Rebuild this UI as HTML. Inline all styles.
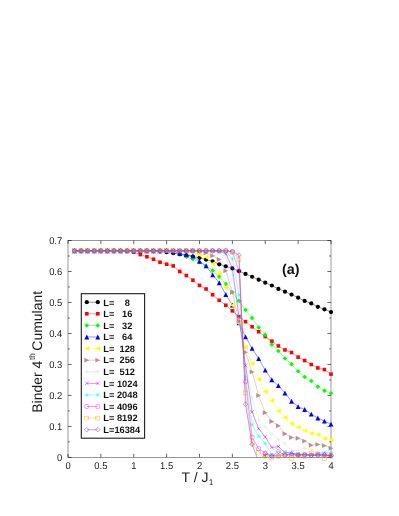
<!DOCTYPE html>
<html><head><meta charset="utf-8"><title>Binder cumulant</title>
<style>html,body{margin:0;padding:0;background:#fff}body{width:399px;height:516px;overflow:hidden;font-family:"Liberation Sans",sans-serif}svg{display:block;will-change:transform}text{text-rendering:geometricPrecision}</style></head>
<body>
<svg width="399" height="516" viewBox="0 0 399 516" font-family="Liberation Sans, sans-serif">
<defs><clipPath id="cp"><rect x="68.00" y="240.50" width="263.00" height="216.90"/></clipPath></defs>
<rect x="68.0" y="240.5" width="263.00" height="216.90" fill="none" stroke="#000" stroke-width="0.4"/>
<path d="M68.00 457.4v-3.6M68.00 240.5v3.6M100.88 457.4v-3.6M100.88 240.5v3.6M133.75 457.4v-3.6M133.75 240.5v3.6M166.62 457.4v-3.6M166.62 240.5v3.6M199.50 457.4v-3.6M199.50 240.5v3.6M232.38 457.4v-3.6M232.38 240.5v3.6M265.25 457.4v-3.6M265.25 240.5v3.6M298.12 457.4v-3.6M298.12 240.5v3.6M331.00 457.4v-3.6M331.00 240.5v3.6M68.0 457.40h3.6M331.0 457.40h-3.6M68.0 441.91h1.8M331.0 441.91h-1.8M68.0 426.41h3.6M331.0 426.41h-3.6M68.0 410.92h1.8M331.0 410.92h-1.8M68.0 395.43h3.6M331.0 395.43h-3.6M68.0 379.94h1.8M331.0 379.94h-1.8M68.0 364.44h3.6M331.0 364.44h-3.6M68.0 348.95h1.8M331.0 348.95h-1.8M68.0 333.46h3.6M331.0 333.46h-3.6M68.0 317.96h1.8M331.0 317.96h-1.8M68.0 302.47h3.6M331.0 302.47h-3.6M68.0 286.98h1.8M331.0 286.98h-1.8M68.0 271.49h3.6M331.0 271.49h-3.6M68.0 255.99h1.8M331.0 255.99h-1.8M68.0 240.50h3.6M331.0 240.50h-3.6" fill="none" stroke="#000" stroke-width="0.6"/>
<path d="M74.58 250.82L81.15 250.82L87.72 250.82L94.30 250.82L100.88 250.82L107.45 250.82L114.03 250.82L120.60 250.82L127.18 250.82L133.75 250.82L140.32 250.82L146.90 250.82L153.48 251.04L160.05 251.50L166.62 252.27L173.20 253.20L179.77 254.13L186.35 255.37L192.93 256.61L199.50 257.85L206.08 259.71L212.65 261.26L219.22 264.36L225.80 266.37L232.38 268.39L238.95 271.18L245.53 273.96L252.10 276.75L258.67 279.67L265.25 282.64L271.83 285.52L278.40 288.93L284.98 291.63L291.55 294.54L298.12 297.70L304.70 300.92L311.27 303.40L317.85 306.81L324.43 309.29L331.00 312.08" fill="none" stroke="#000000" stroke-width="0.42" clip-path="url(#cp)"/>
<circle cx="74.58" cy="250.82" r="2.10" fill="#000000"/>
<circle cx="81.15" cy="250.82" r="2.10" fill="#000000"/>
<circle cx="87.72" cy="250.82" r="2.10" fill="#000000"/>
<circle cx="94.30" cy="250.82" r="2.10" fill="#000000"/>
<circle cx="100.88" cy="250.82" r="2.10" fill="#000000"/>
<circle cx="107.45" cy="250.82" r="2.10" fill="#000000"/>
<circle cx="114.03" cy="250.82" r="2.10" fill="#000000"/>
<circle cx="120.60" cy="250.82" r="2.10" fill="#000000"/>
<circle cx="127.18" cy="250.82" r="2.10" fill="#000000"/>
<circle cx="133.75" cy="250.82" r="2.10" fill="#000000"/>
<circle cx="140.32" cy="250.82" r="2.10" fill="#000000"/>
<circle cx="146.90" cy="250.82" r="2.10" fill="#000000"/>
<circle cx="153.48" cy="251.04" r="2.10" fill="#000000"/>
<circle cx="160.05" cy="251.50" r="2.10" fill="#000000"/>
<circle cx="166.62" cy="252.27" r="2.10" fill="#000000"/>
<circle cx="173.20" cy="253.20" r="2.10" fill="#000000"/>
<circle cx="179.77" cy="254.13" r="2.10" fill="#000000"/>
<circle cx="186.35" cy="255.37" r="2.10" fill="#000000"/>
<circle cx="192.93" cy="256.61" r="2.10" fill="#000000"/>
<circle cx="199.50" cy="257.85" r="2.10" fill="#000000"/>
<circle cx="206.08" cy="259.71" r="2.10" fill="#000000"/>
<circle cx="212.65" cy="261.26" r="2.10" fill="#000000"/>
<circle cx="219.22" cy="264.36" r="2.10" fill="#000000"/>
<circle cx="225.80" cy="266.37" r="2.10" fill="#000000"/>
<circle cx="232.38" cy="268.39" r="2.10" fill="#000000"/>
<circle cx="238.95" cy="271.18" r="2.10" fill="#000000"/>
<circle cx="245.53" cy="273.96" r="2.10" fill="#000000"/>
<circle cx="252.10" cy="276.75" r="2.10" fill="#000000"/>
<circle cx="258.67" cy="279.67" r="2.10" fill="#000000"/>
<circle cx="265.25" cy="282.64" r="2.10" fill="#000000"/>
<circle cx="271.83" cy="285.52" r="2.10" fill="#000000"/>
<circle cx="278.40" cy="288.93" r="2.10" fill="#000000"/>
<circle cx="284.98" cy="291.63" r="2.10" fill="#000000"/>
<circle cx="291.55" cy="294.54" r="2.10" fill="#000000"/>
<circle cx="298.12" cy="297.70" r="2.10" fill="#000000"/>
<circle cx="304.70" cy="300.92" r="2.10" fill="#000000"/>
<circle cx="311.27" cy="303.40" r="2.10" fill="#000000"/>
<circle cx="317.85" cy="306.81" r="2.10" fill="#000000"/>
<circle cx="324.43" cy="309.29" r="2.10" fill="#000000"/>
<circle cx="331.00" cy="312.08" r="2.10" fill="#000000"/>
<path d="M74.58 250.82L81.15 250.82L87.72 250.82L94.30 250.82L100.88 250.82L107.45 250.82L114.03 250.82L120.60 250.82L127.18 250.82L133.75 252.12L140.32 254.60L146.90 256.77L153.48 259.25L160.05 262.19L166.62 264.20L173.20 265.91L179.77 271.49L186.35 275.51L192.93 280.16L199.50 285.43L206.08 288.99L212.65 294.73L219.22 300.30L225.80 305.26L232.38 310.84L238.95 316.72L245.53 321.68L252.10 326.76L258.67 331.75L265.25 336.56L271.83 341.20L278.40 345.94L284.98 349.94L291.55 352.54L298.12 357.13L304.70 360.54L311.27 364.54L317.85 367.94L324.43 369.56L331.00 374.14" fill="none" stroke="#ff0000" stroke-width="0.42" clip-path="url(#cp)"/>
<rect x="72.78" y="249.02" width="3.60" height="3.60" fill="#ff0000"/>
<rect x="79.35" y="249.02" width="3.60" height="3.60" fill="#ff0000"/>
<rect x="85.92" y="249.02" width="3.60" height="3.60" fill="#ff0000"/>
<rect x="92.50" y="249.02" width="3.60" height="3.60" fill="#ff0000"/>
<rect x="99.08" y="249.02" width="3.60" height="3.60" fill="#ff0000"/>
<rect x="105.65" y="249.02" width="3.60" height="3.60" fill="#ff0000"/>
<rect x="112.23" y="249.02" width="3.60" height="3.60" fill="#ff0000"/>
<rect x="118.80" y="249.02" width="3.60" height="3.60" fill="#ff0000"/>
<rect x="125.38" y="249.02" width="3.60" height="3.60" fill="#ff0000"/>
<rect x="131.95" y="250.32" width="3.60" height="3.60" fill="#ff0000"/>
<rect x="138.52" y="252.80" width="3.60" height="3.60" fill="#ff0000"/>
<rect x="145.10" y="254.97" width="3.60" height="3.60" fill="#ff0000"/>
<rect x="151.68" y="257.45" width="3.60" height="3.60" fill="#ff0000"/>
<rect x="158.25" y="260.39" width="3.60" height="3.60" fill="#ff0000"/>
<rect x="164.82" y="262.40" width="3.60" height="3.60" fill="#ff0000"/>
<rect x="171.40" y="264.11" width="3.60" height="3.60" fill="#ff0000"/>
<rect x="177.97" y="269.69" width="3.60" height="3.60" fill="#ff0000"/>
<rect x="184.55" y="273.71" width="3.60" height="3.60" fill="#ff0000"/>
<rect x="191.12" y="278.36" width="3.60" height="3.60" fill="#ff0000"/>
<rect x="197.70" y="283.63" width="3.60" height="3.60" fill="#ff0000"/>
<rect x="204.28" y="287.19" width="3.60" height="3.60" fill="#ff0000"/>
<rect x="210.85" y="292.93" width="3.60" height="3.60" fill="#ff0000"/>
<rect x="217.42" y="298.50" width="3.60" height="3.60" fill="#ff0000"/>
<rect x="224.00" y="303.46" width="3.60" height="3.60" fill="#ff0000"/>
<rect x="230.57" y="309.04" width="3.60" height="3.60" fill="#ff0000"/>
<rect x="237.15" y="314.92" width="3.60" height="3.60" fill="#ff0000"/>
<rect x="243.72" y="319.88" width="3.60" height="3.60" fill="#ff0000"/>
<rect x="250.30" y="324.96" width="3.60" height="3.60" fill="#ff0000"/>
<rect x="256.87" y="329.95" width="3.60" height="3.60" fill="#ff0000"/>
<rect x="263.45" y="334.76" width="3.60" height="3.60" fill="#ff0000"/>
<rect x="270.03" y="339.40" width="3.60" height="3.60" fill="#ff0000"/>
<rect x="276.60" y="344.14" width="3.60" height="3.60" fill="#ff0000"/>
<rect x="283.18" y="348.14" width="3.60" height="3.60" fill="#ff0000"/>
<rect x="289.75" y="350.74" width="3.60" height="3.60" fill="#ff0000"/>
<rect x="296.32" y="355.33" width="3.60" height="3.60" fill="#ff0000"/>
<rect x="302.90" y="358.74" width="3.60" height="3.60" fill="#ff0000"/>
<rect x="309.47" y="362.74" width="3.60" height="3.60" fill="#ff0000"/>
<rect x="316.05" y="366.14" width="3.60" height="3.60" fill="#ff0000"/>
<rect x="322.62" y="367.76" width="3.60" height="3.60" fill="#ff0000"/>
<rect x="329.20" y="372.34" width="3.60" height="3.60" fill="#ff0000"/>
<path d="M74.58 250.82L81.15 250.82L87.72 250.82L94.30 250.82L100.88 250.82L107.45 250.82L114.03 250.82L120.60 250.82L127.18 250.82L133.75 250.82L140.32 250.82L146.90 250.82L153.48 250.82L160.05 250.82L166.62 250.82L173.20 252.27L179.77 254.44L186.35 256.61L192.93 259.09L199.50 262.19L206.08 265.91L212.65 270.56L219.22 276.75L225.80 283.97L232.38 292.25L238.95 300.92L245.53 309.91L252.10 317.96L258.67 327.57L265.25 334.85L271.83 344.61L278.40 350.93L284.98 358.56L291.55 364.13L298.12 371.26L304.70 376.93L311.27 380.93L317.85 386.63L324.43 390.63L331.00 393.26" fill="none" stroke="#00ff00" stroke-width="0.42" clip-path="url(#cp)"/>
<path d="M72.28 250.82L74.58 248.52L76.88 250.82L74.58 253.12Z" fill="#00ff00"/>
<path d="M78.85 250.82L81.15 248.52L83.45 250.82L81.15 253.12Z" fill="#00ff00"/>
<path d="M85.42 250.82L87.72 248.52L90.02 250.82L87.72 253.12Z" fill="#00ff00"/>
<path d="M92.00 250.82L94.30 248.52L96.60 250.82L94.30 253.12Z" fill="#00ff00"/>
<path d="M98.58 250.82L100.88 248.52L103.17 250.82L100.88 253.12Z" fill="#00ff00"/>
<path d="M105.15 250.82L107.45 248.52L109.75 250.82L107.45 253.12Z" fill="#00ff00"/>
<path d="M111.73 250.82L114.03 248.52L116.33 250.82L114.03 253.12Z" fill="#00ff00"/>
<path d="M118.30 250.82L120.60 248.52L122.90 250.82L120.60 253.12Z" fill="#00ff00"/>
<path d="M124.88 250.82L127.18 248.52L129.48 250.82L127.18 253.12Z" fill="#00ff00"/>
<path d="M131.45 250.82L133.75 248.52L136.05 250.82L133.75 253.12Z" fill="#00ff00"/>
<path d="M138.02 250.82L140.32 248.52L142.62 250.82L140.32 253.12Z" fill="#00ff00"/>
<path d="M144.60 250.82L146.90 248.52L149.20 250.82L146.90 253.12Z" fill="#00ff00"/>
<path d="M151.18 250.82L153.48 248.52L155.78 250.82L153.48 253.12Z" fill="#00ff00"/>
<path d="M157.75 250.82L160.05 248.52L162.35 250.82L160.05 253.12Z" fill="#00ff00"/>
<path d="M164.32 250.82L166.62 248.52L168.93 250.82L166.62 253.12Z" fill="#00ff00"/>
<path d="M170.90 252.27L173.20 249.97L175.50 252.27L173.20 254.57Z" fill="#00ff00"/>
<path d="M177.47 254.44L179.77 252.14L182.07 254.44L179.77 256.74Z" fill="#00ff00"/>
<path d="M184.05 256.61L186.35 254.31L188.65 256.61L186.35 258.91Z" fill="#00ff00"/>
<path d="M190.62 259.09L192.93 256.79L195.23 259.09L192.93 261.39Z" fill="#00ff00"/>
<path d="M197.20 262.19L199.50 259.89L201.80 262.19L199.50 264.49Z" fill="#00ff00"/>
<path d="M203.78 265.91L206.08 263.61L208.38 265.91L206.08 268.21Z" fill="#00ff00"/>
<path d="M210.35 270.56L212.65 268.26L214.95 270.56L212.65 272.86Z" fill="#00ff00"/>
<path d="M216.92 276.75L219.22 274.45L221.53 276.75L219.22 279.05Z" fill="#00ff00"/>
<path d="M223.50 283.97L225.80 281.67L228.10 283.97L225.80 286.27Z" fill="#00ff00"/>
<path d="M230.07 292.25L232.38 289.95L234.68 292.25L232.38 294.55Z" fill="#00ff00"/>
<path d="M236.65 300.92L238.95 298.62L241.25 300.92L238.95 303.22Z" fill="#00ff00"/>
<path d="M243.22 309.91L245.53 307.61L247.83 309.91L245.53 312.21Z" fill="#00ff00"/>
<path d="M249.80 317.96L252.10 315.66L254.40 317.96L252.10 320.26Z" fill="#00ff00"/>
<path d="M256.37 327.57L258.67 325.27L260.97 327.57L258.67 329.87Z" fill="#00ff00"/>
<path d="M262.95 334.85L265.25 332.55L267.55 334.85L265.25 337.15Z" fill="#00ff00"/>
<path d="M269.53 344.61L271.83 342.31L274.13 344.61L271.83 346.91Z" fill="#00ff00"/>
<path d="M276.10 350.93L278.40 348.63L280.70 350.93L278.40 353.23Z" fill="#00ff00"/>
<path d="M282.68 358.56L284.98 356.26L287.28 358.56L284.98 360.86Z" fill="#00ff00"/>
<path d="M289.25 364.13L291.55 361.83L293.85 364.13L291.55 366.43Z" fill="#00ff00"/>
<path d="M295.82 371.26L298.12 368.96L300.43 371.26L298.12 373.56Z" fill="#00ff00"/>
<path d="M302.40 376.93L304.70 374.63L307.00 376.93L304.70 379.23Z" fill="#00ff00"/>
<path d="M308.97 380.93L311.27 378.63L313.57 380.93L311.27 383.23Z" fill="#00ff00"/>
<path d="M315.55 386.63L317.85 384.33L320.15 386.63L317.85 388.93Z" fill="#00ff00"/>
<path d="M322.12 390.63L324.43 388.33L326.73 390.63L324.43 392.93Z" fill="#00ff00"/>
<path d="M328.70 393.26L331.00 390.96L333.30 393.26L331.00 395.56Z" fill="#00ff00"/>
<path d="M74.58 250.82L81.15 250.82L87.72 250.82L94.30 250.82L100.88 250.82L107.45 250.82L114.03 250.82L120.60 250.82L127.18 250.82L133.75 250.82L140.32 250.82L146.90 250.82L153.48 250.82L160.05 250.82L166.62 250.82L173.20 251.65L179.77 253.51L186.35 254.75L192.93 255.99L199.50 261.42L206.08 265.91L212.65 274.89L219.22 282.80L225.80 294.51L232.38 304.95L238.95 322.92L245.53 336.87L252.10 348.33L258.67 358.65L265.25 370.14L271.83 379.78L278.40 385.64L284.98 393.04L291.55 401.32L298.12 406.58L304.70 409.53L311.27 414.11L317.85 418.05L324.43 421.15L331.00 424.09" fill="none" stroke="#0000ff" stroke-width="0.42" clip-path="url(#cp)"/>
<path d="M72.12 253.27L74.58 248.37L77.03 253.27Z" fill="#0000ff"/>
<path d="M78.70 253.27L81.15 248.37L83.60 253.27Z" fill="#0000ff"/>
<path d="M85.27 253.27L87.72 248.37L90.17 253.27Z" fill="#0000ff"/>
<path d="M91.85 253.27L94.30 248.37L96.75 253.27Z" fill="#0000ff"/>
<path d="M98.42 253.27L100.88 248.37L103.33 253.27Z" fill="#0000ff"/>
<path d="M105.00 253.27L107.45 248.37L109.90 253.27Z" fill="#0000ff"/>
<path d="M111.58 253.27L114.03 248.37L116.48 253.27Z" fill="#0000ff"/>
<path d="M118.15 253.27L120.60 248.37L123.05 253.27Z" fill="#0000ff"/>
<path d="M124.73 253.27L127.18 248.37L129.62 253.27Z" fill="#0000ff"/>
<path d="M131.30 253.27L133.75 248.37L136.20 253.27Z" fill="#0000ff"/>
<path d="M137.88 253.27L140.32 248.37L142.77 253.27Z" fill="#0000ff"/>
<path d="M144.45 253.27L146.90 248.37L149.35 253.27Z" fill="#0000ff"/>
<path d="M151.03 253.27L153.48 248.37L155.93 253.27Z" fill="#0000ff"/>
<path d="M157.60 253.27L160.05 248.37L162.50 253.27Z" fill="#0000ff"/>
<path d="M164.18 253.27L166.62 248.37L169.07 253.27Z" fill="#0000ff"/>
<path d="M170.75 254.10L173.20 249.20L175.65 254.10Z" fill="#0000ff"/>
<path d="M177.32 255.96L179.77 251.06L182.22 255.96Z" fill="#0000ff"/>
<path d="M183.90 257.20L186.35 252.30L188.80 257.20Z" fill="#0000ff"/>
<path d="M190.48 258.44L192.93 253.54L195.38 258.44Z" fill="#0000ff"/>
<path d="M197.05 263.87L199.50 258.97L201.95 263.87Z" fill="#0000ff"/>
<path d="M203.63 268.36L206.08 263.46L208.53 268.36Z" fill="#0000ff"/>
<path d="M210.20 277.34L212.65 272.44L215.10 277.34Z" fill="#0000ff"/>
<path d="M216.78 285.25L219.22 280.35L221.67 285.25Z" fill="#0000ff"/>
<path d="M223.35 296.96L225.80 292.06L228.25 296.96Z" fill="#0000ff"/>
<path d="M229.93 307.40L232.38 302.50L234.82 307.40Z" fill="#0000ff"/>
<path d="M236.50 325.37L238.95 320.47L241.40 325.37Z" fill="#0000ff"/>
<path d="M243.08 339.32L245.53 334.42L247.97 339.32Z" fill="#0000ff"/>
<path d="M249.65 350.78L252.10 345.88L254.55 350.78Z" fill="#0000ff"/>
<path d="M256.22 361.10L258.67 356.20L261.12 361.10Z" fill="#0000ff"/>
<path d="M262.80 372.59L265.25 367.69L267.70 372.59Z" fill="#0000ff"/>
<path d="M269.38 382.23L271.83 377.33L274.28 382.23Z" fill="#0000ff"/>
<path d="M275.95 388.09L278.40 383.19L280.85 388.09Z" fill="#0000ff"/>
<path d="M282.53 395.49L284.98 390.59L287.43 395.49Z" fill="#0000ff"/>
<path d="M289.10 403.77L291.55 398.87L294.00 403.77Z" fill="#0000ff"/>
<path d="M295.68 409.03L298.12 404.13L300.57 409.03Z" fill="#0000ff"/>
<path d="M302.25 411.98L304.70 407.08L307.15 411.98Z" fill="#0000ff"/>
<path d="M308.82 416.56L311.27 411.66L313.72 416.56Z" fill="#0000ff"/>
<path d="M315.40 420.50L317.85 415.60L320.30 420.50Z" fill="#0000ff"/>
<path d="M321.98 423.60L324.43 418.70L326.88 423.60Z" fill="#0000ff"/>
<path d="M328.55 426.54L331.00 421.64L333.45 426.54Z" fill="#0000ff"/>
<path d="M74.58 250.82L81.15 250.82L87.72 250.82L94.30 250.82L100.88 250.82L107.45 250.82L114.03 250.82L120.60 250.82L127.18 250.82L133.75 250.82L140.32 250.82L146.90 250.82L153.48 250.82L160.05 250.82L166.62 250.82L173.20 250.82L179.77 250.82L186.35 251.34L192.93 252.58L199.50 255.06L206.08 257.23L212.65 263.74L219.22 273.65L225.80 287.38L232.38 305.26L238.95 323.54L245.53 346.94L252.10 363.51L258.67 379.32L265.25 391.56L271.83 400.39L278.40 410.92L284.98 417.43L291.55 423.63L298.12 427.03L304.70 430.60L311.27 433.39L317.85 434.63L324.43 438.65L331.00 439.89" fill="none" stroke="#ffff00" stroke-width="0.42" clip-path="url(#cp)"/>
<path d="M77.03 248.37L72.12 250.82L77.03 253.27Z" fill="#ffff00"/>
<path d="M83.60 248.37L78.70 250.82L83.60 253.27Z" fill="#ffff00"/>
<path d="M90.17 248.37L85.27 250.82L90.17 253.27Z" fill="#ffff00"/>
<path d="M96.75 248.37L91.85 250.82L96.75 253.27Z" fill="#ffff00"/>
<path d="M103.33 248.37L98.42 250.82L103.33 253.27Z" fill="#ffff00"/>
<path d="M109.90 248.37L105.00 250.82L109.90 253.27Z" fill="#ffff00"/>
<path d="M116.48 248.37L111.58 250.82L116.48 253.27Z" fill="#ffff00"/>
<path d="M123.05 248.37L118.15 250.82L123.05 253.27Z" fill="#ffff00"/>
<path d="M129.62 248.37L124.73 250.82L129.62 253.27Z" fill="#ffff00"/>
<path d="M136.20 248.37L131.30 250.82L136.20 253.27Z" fill="#ffff00"/>
<path d="M142.77 248.37L137.88 250.82L142.77 253.27Z" fill="#ffff00"/>
<path d="M149.35 248.37L144.45 250.82L149.35 253.27Z" fill="#ffff00"/>
<path d="M155.93 248.37L151.03 250.82L155.93 253.27Z" fill="#ffff00"/>
<path d="M162.50 248.37L157.60 250.82L162.50 253.27Z" fill="#ffff00"/>
<path d="M169.07 248.37L164.18 250.82L169.07 253.27Z" fill="#ffff00"/>
<path d="M175.65 248.37L170.75 250.82L175.65 253.27Z" fill="#ffff00"/>
<path d="M182.22 248.37L177.32 250.82L182.22 253.27Z" fill="#ffff00"/>
<path d="M188.80 248.89L183.90 251.34L188.80 253.79Z" fill="#ffff00"/>
<path d="M195.38 250.13L190.48 252.58L195.38 255.03Z" fill="#ffff00"/>
<path d="M201.95 252.61L197.05 255.06L201.95 257.51Z" fill="#ffff00"/>
<path d="M208.53 254.78L203.63 257.23L208.53 259.68Z" fill="#ffff00"/>
<path d="M215.10 261.29L210.20 263.74L215.10 266.19Z" fill="#ffff00"/>
<path d="M221.67 271.20L216.78 273.65L221.67 276.10Z" fill="#ffff00"/>
<path d="M228.25 284.93L223.35 287.38L228.25 289.83Z" fill="#ffff00"/>
<path d="M234.82 302.81L229.93 305.26L234.82 307.71Z" fill="#ffff00"/>
<path d="M241.40 321.09L236.50 323.54L241.40 325.99Z" fill="#ffff00"/>
<path d="M247.97 344.49L243.08 346.94L247.97 349.39Z" fill="#ffff00"/>
<path d="M254.55 361.06L249.65 363.51L254.55 365.96Z" fill="#ffff00"/>
<path d="M261.12 376.87L256.22 379.32L261.12 381.77Z" fill="#ffff00"/>
<path d="M267.70 389.11L262.80 391.56L267.70 394.01Z" fill="#ffff00"/>
<path d="M274.28 397.94L269.38 400.39L274.28 402.84Z" fill="#ffff00"/>
<path d="M280.85 408.47L275.95 410.92L280.85 413.37Z" fill="#ffff00"/>
<path d="M287.43 414.98L282.53 417.43L287.43 419.88Z" fill="#ffff00"/>
<path d="M294.00 421.18L289.10 423.63L294.00 426.08Z" fill="#ffff00"/>
<path d="M300.57 424.58L295.68 427.03L300.57 429.48Z" fill="#ffff00"/>
<path d="M307.15 428.15L302.25 430.60L307.15 433.05Z" fill="#ffff00"/>
<path d="M313.72 430.94L308.82 433.39L313.72 435.84Z" fill="#ffff00"/>
<path d="M320.30 432.18L315.40 434.63L320.30 437.08Z" fill="#ffff00"/>
<path d="M326.88 436.20L321.98 438.65L326.88 441.10Z" fill="#ffff00"/>
<path d="M333.45 437.44L328.55 439.89L333.45 442.34Z" fill="#ffff00"/>
<path d="M74.58 250.82L81.15 250.82L87.72 250.82L94.30 250.82L100.88 250.82L107.45 250.82L114.03 250.82L120.60 250.82L127.18 250.82L133.75 250.82L140.32 250.82L146.90 250.82L153.48 250.82L160.05 250.82L166.62 250.82L173.20 250.82L179.77 250.82L186.35 250.82L192.93 250.82L199.50 251.34L206.08 252.89L212.65 255.68L219.22 259.40L225.80 270.87L232.38 292.25L238.95 321.06L245.53 352.36L252.10 371.88L258.67 395.43L265.25 412.78L271.83 421.46L278.40 425.79L284.98 433.73L291.55 437.57L298.12 438.19L304.70 441.10L311.27 445.13L317.85 444.39L324.43 445.63L331.00 448.29" fill="none" stroke="#bc8f8f" stroke-width="0.42" clip-path="url(#cp)"/>
<path d="M72.12 248.37L77.03 250.82L72.12 253.27Z" fill="#bc8f8f"/>
<path d="M78.70 248.37L83.60 250.82L78.70 253.27Z" fill="#bc8f8f"/>
<path d="M85.27 248.37L90.17 250.82L85.27 253.27Z" fill="#bc8f8f"/>
<path d="M91.85 248.37L96.75 250.82L91.85 253.27Z" fill="#bc8f8f"/>
<path d="M98.42 248.37L103.33 250.82L98.42 253.27Z" fill="#bc8f8f"/>
<path d="M105.00 248.37L109.90 250.82L105.00 253.27Z" fill="#bc8f8f"/>
<path d="M111.58 248.37L116.48 250.82L111.58 253.27Z" fill="#bc8f8f"/>
<path d="M118.15 248.37L123.05 250.82L118.15 253.27Z" fill="#bc8f8f"/>
<path d="M124.73 248.37L129.62 250.82L124.73 253.27Z" fill="#bc8f8f"/>
<path d="M131.30 248.37L136.20 250.82L131.30 253.27Z" fill="#bc8f8f"/>
<path d="M137.88 248.37L142.77 250.82L137.88 253.27Z" fill="#bc8f8f"/>
<path d="M144.45 248.37L149.35 250.82L144.45 253.27Z" fill="#bc8f8f"/>
<path d="M151.03 248.37L155.93 250.82L151.03 253.27Z" fill="#bc8f8f"/>
<path d="M157.60 248.37L162.50 250.82L157.60 253.27Z" fill="#bc8f8f"/>
<path d="M164.18 248.37L169.07 250.82L164.18 253.27Z" fill="#bc8f8f"/>
<path d="M170.75 248.37L175.65 250.82L170.75 253.27Z" fill="#bc8f8f"/>
<path d="M177.32 248.37L182.22 250.82L177.32 253.27Z" fill="#bc8f8f"/>
<path d="M183.90 248.37L188.80 250.82L183.90 253.27Z" fill="#bc8f8f"/>
<path d="M190.48 248.37L195.38 250.82L190.48 253.27Z" fill="#bc8f8f"/>
<path d="M197.05 248.89L201.95 251.34L197.05 253.79Z" fill="#bc8f8f"/>
<path d="M203.63 250.44L208.53 252.89L203.63 255.34Z" fill="#bc8f8f"/>
<path d="M210.20 253.23L215.10 255.68L210.20 258.13Z" fill="#bc8f8f"/>
<path d="M216.78 256.95L221.67 259.40L216.78 261.85Z" fill="#bc8f8f"/>
<path d="M223.35 268.42L228.25 270.87L223.35 273.32Z" fill="#bc8f8f"/>
<path d="M229.93 289.80L234.82 292.25L229.93 294.70Z" fill="#bc8f8f"/>
<path d="M236.50 318.61L241.40 321.06L236.50 323.51Z" fill="#bc8f8f"/>
<path d="M243.08 349.91L247.97 352.36L243.08 354.81Z" fill="#bc8f8f"/>
<path d="M249.65 369.43L254.55 371.88L249.65 374.33Z" fill="#bc8f8f"/>
<path d="M256.22 392.98L261.12 395.43L256.22 397.88Z" fill="#bc8f8f"/>
<path d="M262.80 410.33L267.70 412.78L262.80 415.23Z" fill="#bc8f8f"/>
<path d="M269.38 419.01L274.28 421.46L269.38 423.91Z" fill="#bc8f8f"/>
<path d="M275.95 423.34L280.85 425.79L275.95 428.24Z" fill="#bc8f8f"/>
<path d="M282.53 431.28L287.43 433.73L282.53 436.18Z" fill="#bc8f8f"/>
<path d="M289.10 435.12L294.00 437.57L289.10 440.02Z" fill="#bc8f8f"/>
<path d="M295.68 435.74L300.57 438.19L295.68 440.64Z" fill="#bc8f8f"/>
<path d="M302.25 438.65L307.15 441.10L302.25 443.55Z" fill="#bc8f8f"/>
<path d="M308.82 442.68L313.72 445.13L308.82 447.58Z" fill="#bc8f8f"/>
<path d="M315.40 441.94L320.30 444.39L315.40 446.84Z" fill="#bc8f8f"/>
<path d="M321.98 443.18L326.88 445.63L321.98 448.08Z" fill="#bc8f8f"/>
<path d="M328.55 445.84L333.45 448.29L328.55 450.74Z" fill="#bc8f8f"/>
<path d="M74.58 250.82L81.15 250.82L87.72 250.82L94.30 250.82L100.88 250.82L107.45 250.82L114.03 250.82L120.60 250.82L127.18 250.82L133.75 250.82L140.32 250.82L146.90 250.82L153.48 250.82L160.05 250.82L166.62 250.82L173.20 250.82L179.77 250.82L186.35 250.82L192.93 250.82L199.50 250.82L206.08 250.82L212.65 251.34L219.22 252.89L225.80 257.54L232.38 274.58L238.95 317.96L245.53 364.44L252.10 397.72L258.67 419.72L265.25 426.72L271.83 433.91L278.40 439.43L284.98 443.61L291.55 450.40L298.12 450.40L304.70 448.23L311.27 449.65L317.85 451.95L324.43 453.06L331.00 452.75" fill="none" stroke="#dcdcdc" stroke-width="0.42" clip-path="url(#cp)"/>
<path d="M72.28 250.82H76.88M74.58 248.52V253.12" fill="none" stroke="#dcdcdc" stroke-width="0.42"/>
<path d="M78.85 250.82H83.45M81.15 248.52V253.12" fill="none" stroke="#dcdcdc" stroke-width="0.42"/>
<path d="M85.42 250.82H90.02M87.72 248.52V253.12" fill="none" stroke="#dcdcdc" stroke-width="0.42"/>
<path d="M92.00 250.82H96.60M94.30 248.52V253.12" fill="none" stroke="#dcdcdc" stroke-width="0.42"/>
<path d="M98.58 250.82H103.17M100.88 248.52V253.12" fill="none" stroke="#dcdcdc" stroke-width="0.42"/>
<path d="M105.15 250.82H109.75M107.45 248.52V253.12" fill="none" stroke="#dcdcdc" stroke-width="0.42"/>
<path d="M111.73 250.82H116.33M114.03 248.52V253.12" fill="none" stroke="#dcdcdc" stroke-width="0.42"/>
<path d="M118.30 250.82H122.90M120.60 248.52V253.12" fill="none" stroke="#dcdcdc" stroke-width="0.42"/>
<path d="M124.88 250.82H129.48M127.18 248.52V253.12" fill="none" stroke="#dcdcdc" stroke-width="0.42"/>
<path d="M131.45 250.82H136.05M133.75 248.52V253.12" fill="none" stroke="#dcdcdc" stroke-width="0.42"/>
<path d="M138.02 250.82H142.62M140.32 248.52V253.12" fill="none" stroke="#dcdcdc" stroke-width="0.42"/>
<path d="M144.60 250.82H149.20M146.90 248.52V253.12" fill="none" stroke="#dcdcdc" stroke-width="0.42"/>
<path d="M151.18 250.82H155.78M153.48 248.52V253.12" fill="none" stroke="#dcdcdc" stroke-width="0.42"/>
<path d="M157.75 250.82H162.35M160.05 248.52V253.12" fill="none" stroke="#dcdcdc" stroke-width="0.42"/>
<path d="M164.32 250.82H168.93M166.62 248.52V253.12" fill="none" stroke="#dcdcdc" stroke-width="0.42"/>
<path d="M170.90 250.82H175.50M173.20 248.52V253.12" fill="none" stroke="#dcdcdc" stroke-width="0.42"/>
<path d="M177.47 250.82H182.07M179.77 248.52V253.12" fill="none" stroke="#dcdcdc" stroke-width="0.42"/>
<path d="M184.05 250.82H188.65M186.35 248.52V253.12" fill="none" stroke="#dcdcdc" stroke-width="0.42"/>
<path d="M190.62 250.82H195.23M192.93 248.52V253.12" fill="none" stroke="#dcdcdc" stroke-width="0.42"/>
<path d="M197.20 250.82H201.80M199.50 248.52V253.12" fill="none" stroke="#dcdcdc" stroke-width="0.42"/>
<path d="M203.78 250.82H208.38M206.08 248.52V253.12" fill="none" stroke="#dcdcdc" stroke-width="0.42"/>
<path d="M210.35 251.34H214.95M212.65 249.04V253.64" fill="none" stroke="#dcdcdc" stroke-width="0.42"/>
<path d="M216.92 252.89H221.53M219.22 250.59V255.19" fill="none" stroke="#dcdcdc" stroke-width="0.42"/>
<path d="M223.50 257.54H228.10M225.80 255.24V259.84" fill="none" stroke="#dcdcdc" stroke-width="0.42"/>
<path d="M230.07 274.58H234.68M232.38 272.28V276.88" fill="none" stroke="#dcdcdc" stroke-width="0.42"/>
<path d="M236.65 317.96H241.25M238.95 315.66V320.26" fill="none" stroke="#dcdcdc" stroke-width="0.42"/>
<path d="M243.22 364.44H247.83M245.53 362.14V366.74" fill="none" stroke="#dcdcdc" stroke-width="0.42"/>
<path d="M249.80 397.72H254.40M252.10 395.42V400.02" fill="none" stroke="#dcdcdc" stroke-width="0.42"/>
<path d="M256.37 419.72H260.97M258.67 417.42V422.02" fill="none" stroke="#dcdcdc" stroke-width="0.42"/>
<path d="M262.95 426.72H267.55M265.25 424.42V429.02" fill="none" stroke="#dcdcdc" stroke-width="0.42"/>
<path d="M269.53 433.91H274.13M271.83 431.61V436.21" fill="none" stroke="#dcdcdc" stroke-width="0.42"/>
<path d="M276.10 439.43H280.70M278.40 437.13V441.73" fill="none" stroke="#dcdcdc" stroke-width="0.42"/>
<path d="M282.68 443.61H287.28M284.98 441.31V445.91" fill="none" stroke="#dcdcdc" stroke-width="0.42"/>
<path d="M289.25 450.40H293.85M291.55 448.10V452.70" fill="none" stroke="#dcdcdc" stroke-width="0.42"/>
<path d="M295.82 450.40H300.43M298.12 448.10V452.70" fill="none" stroke="#dcdcdc" stroke-width="0.42"/>
<path d="M302.40 448.23H307.00M304.70 445.93V450.53" fill="none" stroke="#dcdcdc" stroke-width="0.42"/>
<path d="M308.97 449.65H313.57M311.27 447.35V451.95" fill="none" stroke="#dcdcdc" stroke-width="0.42"/>
<path d="M315.55 451.95H320.15M317.85 449.65V454.25" fill="none" stroke="#dcdcdc" stroke-width="0.42"/>
<path d="M322.12 453.06H326.73M324.43 450.76V455.36" fill="none" stroke="#dcdcdc" stroke-width="0.42"/>
<path d="M328.70 452.75H333.30M331.00 450.45V455.05" fill="none" stroke="#dcdcdc" stroke-width="0.42"/>
<path d="M74.58 250.82L81.15 250.82L87.72 250.82L94.30 250.82L100.88 250.82L107.45 250.82L114.03 250.82L120.60 250.82L127.18 250.82L133.75 250.82L140.32 250.82L146.90 250.82L153.48 250.82L160.05 250.82L166.62 250.82L173.20 250.82L179.77 250.82L186.35 250.82L192.93 250.82L199.50 250.82L206.08 250.82L212.65 250.82L219.22 251.34L225.80 253.82L232.38 268.08L238.95 316.41L245.53 365.68L252.10 411.85L258.67 428.71L265.25 436.95L271.83 447.48L278.40 446.71L284.98 452.44L291.55 453.06L298.12 453.99L304.70 454.61L311.27 454.92L317.85 454.30L324.43 455.23L331.00 455.23" fill="none" stroke="#9400d3" stroke-width="0.42" clip-path="url(#cp)"/>
<path d="M72.78 249.02L76.38 252.62M72.78 252.62L76.38 249.02" fill="none" stroke="#9400d3" stroke-width="0.42"/>
<path d="M79.35 249.02L82.95 252.62M79.35 252.62L82.95 249.02" fill="none" stroke="#9400d3" stroke-width="0.42"/>
<path d="M85.92 249.02L89.52 252.62M85.92 252.62L89.52 249.02" fill="none" stroke="#9400d3" stroke-width="0.42"/>
<path d="M92.50 249.02L96.10 252.62M92.50 252.62L96.10 249.02" fill="none" stroke="#9400d3" stroke-width="0.42"/>
<path d="M99.08 249.02L102.67 252.62M99.08 252.62L102.67 249.02" fill="none" stroke="#9400d3" stroke-width="0.42"/>
<path d="M105.65 249.02L109.25 252.62M105.65 252.62L109.25 249.02" fill="none" stroke="#9400d3" stroke-width="0.42"/>
<path d="M112.23 249.02L115.83 252.62M112.23 252.62L115.83 249.02" fill="none" stroke="#9400d3" stroke-width="0.42"/>
<path d="M118.80 249.02L122.40 252.62M118.80 252.62L122.40 249.02" fill="none" stroke="#9400d3" stroke-width="0.42"/>
<path d="M125.38 249.02L128.98 252.62M125.38 252.62L128.98 249.02" fill="none" stroke="#9400d3" stroke-width="0.42"/>
<path d="M131.95 249.02L135.55 252.62M131.95 252.62L135.55 249.02" fill="none" stroke="#9400d3" stroke-width="0.42"/>
<path d="M138.52 249.02L142.12 252.62M138.52 252.62L142.12 249.02" fill="none" stroke="#9400d3" stroke-width="0.42"/>
<path d="M145.10 249.02L148.70 252.62M145.10 252.62L148.70 249.02" fill="none" stroke="#9400d3" stroke-width="0.42"/>
<path d="M151.68 249.02L155.28 252.62M151.68 252.62L155.28 249.02" fill="none" stroke="#9400d3" stroke-width="0.42"/>
<path d="M158.25 249.02L161.85 252.62M158.25 252.62L161.85 249.02" fill="none" stroke="#9400d3" stroke-width="0.42"/>
<path d="M164.82 249.02L168.43 252.62M164.82 252.62L168.43 249.02" fill="none" stroke="#9400d3" stroke-width="0.42"/>
<path d="M171.40 249.02L175.00 252.62M171.40 252.62L175.00 249.02" fill="none" stroke="#9400d3" stroke-width="0.42"/>
<path d="M177.97 249.02L181.57 252.62M177.97 252.62L181.57 249.02" fill="none" stroke="#9400d3" stroke-width="0.42"/>
<path d="M184.55 249.02L188.15 252.62M184.55 252.62L188.15 249.02" fill="none" stroke="#9400d3" stroke-width="0.42"/>
<path d="M191.12 249.02L194.73 252.62M191.12 252.62L194.73 249.02" fill="none" stroke="#9400d3" stroke-width="0.42"/>
<path d="M197.70 249.02L201.30 252.62M197.70 252.62L201.30 249.02" fill="none" stroke="#9400d3" stroke-width="0.42"/>
<path d="M204.28 249.02L207.88 252.62M204.28 252.62L207.88 249.02" fill="none" stroke="#9400d3" stroke-width="0.42"/>
<path d="M210.85 249.02L214.45 252.62M210.85 252.62L214.45 249.02" fill="none" stroke="#9400d3" stroke-width="0.42"/>
<path d="M217.42 249.54L221.03 253.14M217.42 253.14L221.03 249.54" fill="none" stroke="#9400d3" stroke-width="0.42"/>
<path d="M224.00 252.02L227.60 255.62M224.00 255.62L227.60 252.02" fill="none" stroke="#9400d3" stroke-width="0.42"/>
<path d="M230.57 266.28L234.18 269.88M230.57 269.88L234.18 266.28" fill="none" stroke="#9400d3" stroke-width="0.42"/>
<path d="M237.15 314.61L240.75 318.21M237.15 318.21L240.75 314.61" fill="none" stroke="#9400d3" stroke-width="0.42"/>
<path d="M243.72 363.88L247.33 367.48M243.72 367.48L247.33 363.88" fill="none" stroke="#9400d3" stroke-width="0.42"/>
<path d="M250.30 410.05L253.90 413.65M250.30 413.65L253.90 410.05" fill="none" stroke="#9400d3" stroke-width="0.42"/>
<path d="M256.87 426.91L260.47 430.51M256.87 430.51L260.47 426.91" fill="none" stroke="#9400d3" stroke-width="0.42"/>
<path d="M263.45 435.15L267.05 438.75M263.45 438.75L267.05 435.15" fill="none" stroke="#9400d3" stroke-width="0.42"/>
<path d="M270.03 445.68L273.63 449.28M270.03 449.28L273.63 445.68" fill="none" stroke="#9400d3" stroke-width="0.42"/>
<path d="M276.60 444.91L280.20 448.51M276.60 448.51L280.20 444.91" fill="none" stroke="#9400d3" stroke-width="0.42"/>
<path d="M283.18 450.64L286.78 454.24M283.18 454.24L286.78 450.64" fill="none" stroke="#9400d3" stroke-width="0.42"/>
<path d="M289.75 451.26L293.35 454.86M289.75 454.86L293.35 451.26" fill="none" stroke="#9400d3" stroke-width="0.42"/>
<path d="M296.32 452.19L299.93 455.79M296.32 455.79L299.93 452.19" fill="none" stroke="#9400d3" stroke-width="0.42"/>
<path d="M302.90 452.81L306.50 456.41M302.90 456.41L306.50 452.81" fill="none" stroke="#9400d3" stroke-width="0.42"/>
<path d="M309.47 453.12L313.07 456.72M309.47 456.72L313.07 453.12" fill="none" stroke="#9400d3" stroke-width="0.42"/>
<path d="M316.05 452.50L319.65 456.10M316.05 456.10L319.65 452.50" fill="none" stroke="#9400d3" stroke-width="0.42"/>
<path d="M322.62 453.43L326.23 457.03M322.62 457.03L326.23 453.43" fill="none" stroke="#9400d3" stroke-width="0.42"/>
<path d="M329.20 453.43L332.80 457.03M329.20 457.03L332.80 453.43" fill="none" stroke="#9400d3" stroke-width="0.42"/>
<path d="M74.58 250.82L81.15 250.82L87.72 250.82L94.30 250.82L100.88 250.82L107.45 250.82L114.03 250.82L120.60 250.82L127.18 250.82L133.75 250.82L140.32 250.82L146.90 250.82L153.48 250.82L160.05 250.82L166.62 250.82L173.20 250.82L179.77 250.82L186.35 250.82L192.93 250.82L199.50 250.82L206.08 250.82L212.65 250.82L219.22 250.82L225.80 251.65L232.38 258.78L238.95 295.03L245.53 377.15L252.10 424.62L258.67 436.21L265.25 443.46L271.83 454.98L278.40 455.54L284.98 451.95L291.55 453.99L298.12 453.99L304.70 454.30L311.27 454.61L317.85 453.99L324.43 452.44L331.00 453.06" fill="none" stroke="#00ffff" stroke-width="0.42" clip-path="url(#cp)"/>
<path d="M72.67 250.82H76.48M74.58 248.92V252.72M72.96 249.20L76.19 252.43M72.96 252.43L76.19 249.20" fill="none" stroke="#00ffff" stroke-width="0.42"/>
<path d="M79.25 250.82H83.05M81.15 248.92V252.72M79.54 249.20L82.77 252.43M79.54 252.43L82.77 249.20" fill="none" stroke="#00ffff" stroke-width="0.42"/>
<path d="M85.82 250.82H89.62M87.72 248.92V252.72M86.11 249.20L89.34 252.43M86.11 252.43L89.34 249.20" fill="none" stroke="#00ffff" stroke-width="0.42"/>
<path d="M92.40 250.82H96.20M94.30 248.92V252.72M92.69 249.20L95.91 252.43M92.69 252.43L95.91 249.20" fill="none" stroke="#00ffff" stroke-width="0.42"/>
<path d="M98.97 250.82H102.78M100.88 248.92V252.72M99.26 249.20L102.49 252.43M99.26 252.43L102.49 249.20" fill="none" stroke="#00ffff" stroke-width="0.42"/>
<path d="M105.55 250.82H109.35M107.45 248.92V252.72M105.83 249.20L109.06 252.43M105.83 252.43L109.06 249.20" fill="none" stroke="#00ffff" stroke-width="0.42"/>
<path d="M112.12 250.82H115.93M114.03 248.92V252.72M112.41 249.20L115.64 252.43M112.41 252.43L115.64 249.20" fill="none" stroke="#00ffff" stroke-width="0.42"/>
<path d="M118.70 250.82H122.50M120.60 248.92V252.72M118.98 249.20L122.21 252.43M118.98 252.43L122.21 249.20" fill="none" stroke="#00ffff" stroke-width="0.42"/>
<path d="M125.28 250.82H129.08M127.18 248.92V252.72M125.56 249.20L128.79 252.43M125.56 252.43L128.79 249.20" fill="none" stroke="#00ffff" stroke-width="0.42"/>
<path d="M131.85 250.82H135.65M133.75 248.92V252.72M132.13 249.20L135.37 252.43M132.13 252.43L135.37 249.20" fill="none" stroke="#00ffff" stroke-width="0.42"/>
<path d="M138.42 250.82H142.22M140.32 248.92V252.72M138.71 249.20L141.94 252.43M138.71 252.43L141.94 249.20" fill="none" stroke="#00ffff" stroke-width="0.42"/>
<path d="M145.00 250.82H148.80M146.90 248.92V252.72M145.28 249.20L148.51 252.43M145.28 252.43L148.51 249.20" fill="none" stroke="#00ffff" stroke-width="0.42"/>
<path d="M151.58 250.82H155.38M153.48 248.92V252.72M151.86 249.20L155.09 252.43M151.86 252.43L155.09 249.20" fill="none" stroke="#00ffff" stroke-width="0.42"/>
<path d="M158.15 250.82H161.95M160.05 248.92V252.72M158.44 249.20L161.67 252.43M158.44 252.43L161.67 249.20" fill="none" stroke="#00ffff" stroke-width="0.42"/>
<path d="M164.72 250.82H168.53M166.62 248.92V252.72M165.01 249.20L168.24 252.43M165.01 252.43L168.24 249.20" fill="none" stroke="#00ffff" stroke-width="0.42"/>
<path d="M171.30 250.82H175.10M173.20 248.92V252.72M171.58 249.20L174.81 252.43M171.58 252.43L174.81 249.20" fill="none" stroke="#00ffff" stroke-width="0.42"/>
<path d="M177.87 250.82H181.67M179.77 248.92V252.72M178.16 249.20L181.39 252.43M178.16 252.43L181.39 249.20" fill="none" stroke="#00ffff" stroke-width="0.42"/>
<path d="M184.45 250.82H188.25M186.35 248.92V252.72M184.74 249.20L187.97 252.43M184.74 252.43L187.97 249.20" fill="none" stroke="#00ffff" stroke-width="0.42"/>
<path d="M191.03 250.82H194.83M192.93 248.92V252.72M191.31 249.20L194.54 252.43M191.31 252.43L194.54 249.20" fill="none" stroke="#00ffff" stroke-width="0.42"/>
<path d="M197.60 250.82H201.40M199.50 248.92V252.72M197.88 249.20L201.12 252.43M197.88 252.43L201.12 249.20" fill="none" stroke="#00ffff" stroke-width="0.42"/>
<path d="M204.18 250.82H207.98M206.08 248.92V252.72M204.46 249.20L207.69 252.43M204.46 252.43L207.69 249.20" fill="none" stroke="#00ffff" stroke-width="0.42"/>
<path d="M210.75 250.82H214.55M212.65 248.92V252.72M211.03 249.20L214.27 252.43M211.03 252.43L214.27 249.20" fill="none" stroke="#00ffff" stroke-width="0.42"/>
<path d="M217.32 250.82H221.12M219.22 248.92V252.72M217.61 249.20L220.84 252.43M217.61 252.43L220.84 249.20" fill="none" stroke="#00ffff" stroke-width="0.42"/>
<path d="M223.90 251.65H227.70M225.80 249.75V253.55M224.18 250.04L227.41 253.27M224.18 253.27L227.41 250.04" fill="none" stroke="#00ffff" stroke-width="0.42"/>
<path d="M230.47 258.78H234.28M232.38 256.88V260.68M230.76 257.17L233.99 260.40M230.76 260.40L233.99 257.17" fill="none" stroke="#00ffff" stroke-width="0.42"/>
<path d="M237.05 295.03H240.85M238.95 293.13V296.93M237.34 293.42L240.57 296.65M237.34 296.65L240.57 293.42" fill="none" stroke="#00ffff" stroke-width="0.42"/>
<path d="M243.62 377.15H247.43M245.53 375.25V379.05M243.91 375.53L247.14 378.76M243.91 378.76L247.14 375.53" fill="none" stroke="#00ffff" stroke-width="0.42"/>
<path d="M250.20 424.62H254.00M252.10 422.72V426.52M250.48 423.00L253.72 426.23M250.48 426.23L253.72 423.00" fill="none" stroke="#00ffff" stroke-width="0.42"/>
<path d="M256.77 436.21H260.57M258.67 434.31V438.11M257.06 434.59L260.29 437.82M257.06 437.82L260.29 434.59" fill="none" stroke="#00ffff" stroke-width="0.42"/>
<path d="M263.35 443.46H267.15M265.25 441.56V445.36M263.63 441.84L266.87 445.07M263.63 445.07L266.87 441.84" fill="none" stroke="#00ffff" stroke-width="0.42"/>
<path d="M269.93 454.98H273.73M271.83 453.08V456.88M270.21 453.37L273.44 456.60M270.21 456.60L273.44 453.37" fill="none" stroke="#00ffff" stroke-width="0.42"/>
<path d="M276.50 455.54H280.30M278.40 453.64V457.44M276.78 453.93L280.01 457.16M276.78 457.16L280.01 453.93" fill="none" stroke="#00ffff" stroke-width="0.42"/>
<path d="M283.08 451.95H286.88M284.98 450.05V453.85M283.36 450.33L286.59 453.56M283.36 453.56L286.59 450.33" fill="none" stroke="#00ffff" stroke-width="0.42"/>
<path d="M289.65 453.99H293.45M291.55 452.09V455.89M289.93 452.38L293.16 455.61M289.93 455.61L293.16 452.38" fill="none" stroke="#00ffff" stroke-width="0.42"/>
<path d="M296.23 453.99H300.02M298.12 452.09V455.89M296.51 452.38L299.74 455.61M296.51 455.61L299.74 452.38" fill="none" stroke="#00ffff" stroke-width="0.42"/>
<path d="M302.80 454.30H306.60M304.70 452.40V456.20M303.09 452.69L306.32 455.92M303.09 455.92L306.32 452.69" fill="none" stroke="#00ffff" stroke-width="0.42"/>
<path d="M309.38 454.61H313.17M311.27 452.71V456.51M309.66 453.00L312.89 456.23M309.66 456.23L312.89 453.00" fill="none" stroke="#00ffff" stroke-width="0.42"/>
<path d="M315.95 453.99H319.75M317.85 452.09V455.89M316.24 452.38L319.47 455.61M316.24 455.61L319.47 452.38" fill="none" stroke="#00ffff" stroke-width="0.42"/>
<path d="M322.53 452.44H326.32M324.43 450.54V454.34M322.81 450.83L326.04 454.06M322.81 454.06L326.04 450.83" fill="none" stroke="#00ffff" stroke-width="0.42"/>
<path d="M329.10 453.06H332.90M331.00 451.16V454.96M329.38 451.45L332.62 454.68M329.38 454.68L332.62 451.45" fill="none" stroke="#00ffff" stroke-width="0.42"/>
<path d="M74.58 250.82L81.15 250.82L87.72 250.82L94.30 250.82L100.88 250.82L107.45 250.82L114.03 250.82L120.60 250.82L127.18 250.82L133.75 250.82L140.32 250.82L146.90 250.82L153.48 250.82L160.05 250.82L166.62 250.82L173.20 250.82L179.77 250.82L186.35 250.82L192.93 250.82L199.50 250.82L206.08 250.82L212.65 250.82L219.22 250.82L225.80 250.82L232.38 252.12L238.95 270.87L245.53 381.49L252.10 437.41L258.67 448.72L265.25 453.22L271.83 455.63L278.40 455.85L284.98 454.61L291.55 455.54L298.12 454.92L304.70 454.61L311.27 455.23L317.85 454.92L324.43 455.23L331.00 455.54" fill="none" stroke="#ff00ff" stroke-width="0.42" clip-path="url(#cp)"/>
<circle cx="74.58" cy="250.82" r="2.20" fill="none" stroke="#ff00ff" stroke-width="0.42"/>
<circle cx="81.15" cy="250.82" r="2.20" fill="none" stroke="#ff00ff" stroke-width="0.42"/>
<circle cx="87.72" cy="250.82" r="2.20" fill="none" stroke="#ff00ff" stroke-width="0.42"/>
<circle cx="94.30" cy="250.82" r="2.20" fill="none" stroke="#ff00ff" stroke-width="0.42"/>
<circle cx="100.88" cy="250.82" r="2.20" fill="none" stroke="#ff00ff" stroke-width="0.42"/>
<circle cx="107.45" cy="250.82" r="2.20" fill="none" stroke="#ff00ff" stroke-width="0.42"/>
<circle cx="114.03" cy="250.82" r="2.20" fill="none" stroke="#ff00ff" stroke-width="0.42"/>
<circle cx="120.60" cy="250.82" r="2.20" fill="none" stroke="#ff00ff" stroke-width="0.42"/>
<circle cx="127.18" cy="250.82" r="2.20" fill="none" stroke="#ff00ff" stroke-width="0.42"/>
<circle cx="133.75" cy="250.82" r="2.20" fill="none" stroke="#ff00ff" stroke-width="0.42"/>
<circle cx="140.32" cy="250.82" r="2.20" fill="none" stroke="#ff00ff" stroke-width="0.42"/>
<circle cx="146.90" cy="250.82" r="2.20" fill="none" stroke="#ff00ff" stroke-width="0.42"/>
<circle cx="153.48" cy="250.82" r="2.20" fill="none" stroke="#ff00ff" stroke-width="0.42"/>
<circle cx="160.05" cy="250.82" r="2.20" fill="none" stroke="#ff00ff" stroke-width="0.42"/>
<circle cx="166.62" cy="250.82" r="2.20" fill="none" stroke="#ff00ff" stroke-width="0.42"/>
<circle cx="173.20" cy="250.82" r="2.20" fill="none" stroke="#ff00ff" stroke-width="0.42"/>
<circle cx="179.77" cy="250.82" r="2.20" fill="none" stroke="#ff00ff" stroke-width="0.42"/>
<circle cx="186.35" cy="250.82" r="2.20" fill="none" stroke="#ff00ff" stroke-width="0.42"/>
<circle cx="192.93" cy="250.82" r="2.20" fill="none" stroke="#ff00ff" stroke-width="0.42"/>
<circle cx="199.50" cy="250.82" r="2.20" fill="none" stroke="#ff00ff" stroke-width="0.42"/>
<circle cx="206.08" cy="250.82" r="2.20" fill="none" stroke="#ff00ff" stroke-width="0.42"/>
<circle cx="212.65" cy="250.82" r="2.20" fill="none" stroke="#ff00ff" stroke-width="0.42"/>
<circle cx="219.22" cy="250.82" r="2.20" fill="none" stroke="#ff00ff" stroke-width="0.42"/>
<circle cx="225.80" cy="250.82" r="2.20" fill="none" stroke="#ff00ff" stroke-width="0.42"/>
<circle cx="232.38" cy="252.12" r="2.20" fill="none" stroke="#ff00ff" stroke-width="0.42"/>
<circle cx="238.95" cy="270.87" r="2.20" fill="none" stroke="#ff00ff" stroke-width="0.42"/>
<circle cx="245.53" cy="381.49" r="2.20" fill="none" stroke="#ff00ff" stroke-width="0.42"/>
<circle cx="252.10" cy="437.41" r="2.20" fill="none" stroke="#ff00ff" stroke-width="0.42"/>
<circle cx="258.67" cy="448.72" r="2.20" fill="none" stroke="#ff00ff" stroke-width="0.42"/>
<circle cx="265.25" cy="453.22" r="2.20" fill="none" stroke="#ff00ff" stroke-width="0.42"/>
<circle cx="271.83" cy="455.63" r="2.20" fill="none" stroke="#ff00ff" stroke-width="0.42"/>
<circle cx="278.40" cy="455.85" r="2.20" fill="none" stroke="#ff00ff" stroke-width="0.42"/>
<circle cx="284.98" cy="454.61" r="2.20" fill="none" stroke="#ff00ff" stroke-width="0.42"/>
<circle cx="291.55" cy="455.54" r="2.20" fill="none" stroke="#ff00ff" stroke-width="0.42"/>
<circle cx="298.12" cy="454.92" r="2.20" fill="none" stroke="#ff00ff" stroke-width="0.42"/>
<circle cx="304.70" cy="454.61" r="2.20" fill="none" stroke="#ff00ff" stroke-width="0.42"/>
<circle cx="311.27" cy="455.23" r="2.20" fill="none" stroke="#ff00ff" stroke-width="0.42"/>
<circle cx="317.85" cy="454.92" r="2.20" fill="none" stroke="#ff00ff" stroke-width="0.42"/>
<circle cx="324.43" cy="455.23" r="2.20" fill="none" stroke="#ff00ff" stroke-width="0.42"/>
<circle cx="331.00" cy="455.54" r="2.20" fill="none" stroke="#ff00ff" stroke-width="0.42"/>
<path d="M74.58 250.82L81.15 250.82L87.72 250.82L94.30 250.82L100.88 250.82L107.45 250.82L114.03 250.82L120.60 250.82L127.18 250.82L133.75 250.82L140.32 250.82L146.90 250.82L153.48 250.82L160.05 250.82L166.62 250.82L173.20 250.82L179.77 250.82L186.35 250.82L192.93 250.82L199.50 250.82L206.08 250.82L212.65 250.82L219.22 250.82L225.80 250.82L232.38 251.96L238.95 259.87L245.53 392.95L252.10 442.96L258.67 452.13L265.25 456.16L271.83 458.02L278.40 456.16L284.98 453.99L291.55 458.33L298.12 455.85L304.70 456.78L311.27 453.68L317.85 453.99L324.43 458.33L331.00 456.16" fill="none" stroke="#ffa500" stroke-width="0.42" clip-path="url(#cp)"/>
<rect x="72.62" y="248.87" width="3.90" height="3.90" fill="none" stroke="#ffa500" stroke-width="0.42"/>
<rect x="79.20" y="248.87" width="3.90" height="3.90" fill="none" stroke="#ffa500" stroke-width="0.42"/>
<rect x="85.77" y="248.87" width="3.90" height="3.90" fill="none" stroke="#ffa500" stroke-width="0.42"/>
<rect x="92.35" y="248.87" width="3.90" height="3.90" fill="none" stroke="#ffa500" stroke-width="0.42"/>
<rect x="98.92" y="248.87" width="3.90" height="3.90" fill="none" stroke="#ffa500" stroke-width="0.42"/>
<rect x="105.50" y="248.87" width="3.90" height="3.90" fill="none" stroke="#ffa500" stroke-width="0.42"/>
<rect x="112.08" y="248.87" width="3.90" height="3.90" fill="none" stroke="#ffa500" stroke-width="0.42"/>
<rect x="118.65" y="248.87" width="3.90" height="3.90" fill="none" stroke="#ffa500" stroke-width="0.42"/>
<rect x="125.23" y="248.87" width="3.90" height="3.90" fill="none" stroke="#ffa500" stroke-width="0.42"/>
<rect x="131.80" y="248.87" width="3.90" height="3.90" fill="none" stroke="#ffa500" stroke-width="0.42"/>
<rect x="138.38" y="248.87" width="3.90" height="3.90" fill="none" stroke="#ffa500" stroke-width="0.42"/>
<rect x="144.95" y="248.87" width="3.90" height="3.90" fill="none" stroke="#ffa500" stroke-width="0.42"/>
<rect x="151.53" y="248.87" width="3.90" height="3.90" fill="none" stroke="#ffa500" stroke-width="0.42"/>
<rect x="158.10" y="248.87" width="3.90" height="3.90" fill="none" stroke="#ffa500" stroke-width="0.42"/>
<rect x="164.68" y="248.87" width="3.90" height="3.90" fill="none" stroke="#ffa500" stroke-width="0.42"/>
<rect x="171.25" y="248.87" width="3.90" height="3.90" fill="none" stroke="#ffa500" stroke-width="0.42"/>
<rect x="177.82" y="248.87" width="3.90" height="3.90" fill="none" stroke="#ffa500" stroke-width="0.42"/>
<rect x="184.40" y="248.87" width="3.90" height="3.90" fill="none" stroke="#ffa500" stroke-width="0.42"/>
<rect x="190.98" y="248.87" width="3.90" height="3.90" fill="none" stroke="#ffa500" stroke-width="0.42"/>
<rect x="197.55" y="248.87" width="3.90" height="3.90" fill="none" stroke="#ffa500" stroke-width="0.42"/>
<rect x="204.13" y="248.87" width="3.90" height="3.90" fill="none" stroke="#ffa500" stroke-width="0.42"/>
<rect x="210.70" y="248.87" width="3.90" height="3.90" fill="none" stroke="#ffa500" stroke-width="0.42"/>
<rect x="217.28" y="248.87" width="3.90" height="3.90" fill="none" stroke="#ffa500" stroke-width="0.42"/>
<rect x="223.85" y="248.87" width="3.90" height="3.90" fill="none" stroke="#ffa500" stroke-width="0.42"/>
<rect x="230.43" y="250.01" width="3.90" height="3.90" fill="none" stroke="#ffa500" stroke-width="0.42"/>
<rect x="237.00" y="257.92" width="3.90" height="3.90" fill="none" stroke="#ffa500" stroke-width="0.42"/>
<rect x="243.58" y="391.00" width="3.90" height="3.90" fill="none" stroke="#ffa500" stroke-width="0.42"/>
<rect x="250.15" y="441.01" width="3.90" height="3.90" fill="none" stroke="#ffa500" stroke-width="0.42"/>
<rect x="256.72" y="450.18" width="3.90" height="3.90" fill="none" stroke="#ffa500" stroke-width="0.42"/>
<rect x="263.30" y="454.21" width="3.90" height="3.90" fill="none" stroke="#ffa500" stroke-width="0.42"/>
<rect x="269.88" y="456.07" width="3.90" height="3.90" fill="none" stroke="#ffa500" stroke-width="0.42"/>
<rect x="276.45" y="454.21" width="3.90" height="3.90" fill="none" stroke="#ffa500" stroke-width="0.42"/>
<rect x="283.03" y="452.04" width="3.90" height="3.90" fill="none" stroke="#ffa500" stroke-width="0.42"/>
<rect x="289.60" y="456.38" width="3.90" height="3.90" fill="none" stroke="#ffa500" stroke-width="0.42"/>
<rect x="296.18" y="453.90" width="3.90" height="3.90" fill="none" stroke="#ffa500" stroke-width="0.42"/>
<rect x="302.75" y="454.83" width="3.90" height="3.90" fill="none" stroke="#ffa500" stroke-width="0.42"/>
<rect x="309.32" y="451.73" width="3.90" height="3.90" fill="none" stroke="#ffa500" stroke-width="0.42"/>
<rect x="315.90" y="452.04" width="3.90" height="3.90" fill="none" stroke="#ffa500" stroke-width="0.42"/>
<rect x="322.48" y="456.38" width="3.90" height="3.90" fill="none" stroke="#ffa500" stroke-width="0.42"/>
<rect x="329.05" y="454.21" width="3.90" height="3.90" fill="none" stroke="#ffa500" stroke-width="0.42"/>
<path d="M74.58 250.82L81.15 250.82L87.72 250.82L94.30 250.82L100.88 250.82L107.45 250.82L114.03 250.82L120.60 250.82L127.18 250.82L133.75 250.82L140.32 250.82L146.90 250.82L153.48 250.82L160.05 250.82L166.62 250.82L173.20 250.82L179.77 250.82L186.35 250.82L192.93 250.82L199.50 250.82L206.08 250.82L212.65 250.82L219.22 250.82L225.80 250.82L232.38 251.19L238.95 255.06L245.53 404.23L252.10 444.39L258.67 461.74L265.25 453.74L271.83 456.47L278.40 451.26L284.98 455.32L291.55 453.68L298.12 455.23L304.70 454.92L311.27 455.54L317.85 455.23L324.43 454.61L331.00 455.85" fill="none" stroke="#7221bc" stroke-width="0.42" clip-path="url(#cp)"/>
<path d="M72.28 250.82L74.58 248.52L76.88 250.82L74.58 253.12Z" fill="none" stroke="#7221bc" stroke-width="0.42"/>
<path d="M78.85 250.82L81.15 248.52L83.45 250.82L81.15 253.12Z" fill="none" stroke="#7221bc" stroke-width="0.42"/>
<path d="M85.42 250.82L87.72 248.52L90.02 250.82L87.72 253.12Z" fill="none" stroke="#7221bc" stroke-width="0.42"/>
<path d="M92.00 250.82L94.30 248.52L96.60 250.82L94.30 253.12Z" fill="none" stroke="#7221bc" stroke-width="0.42"/>
<path d="M98.58 250.82L100.88 248.52L103.17 250.82L100.88 253.12Z" fill="none" stroke="#7221bc" stroke-width="0.42"/>
<path d="M105.15 250.82L107.45 248.52L109.75 250.82L107.45 253.12Z" fill="none" stroke="#7221bc" stroke-width="0.42"/>
<path d="M111.73 250.82L114.03 248.52L116.33 250.82L114.03 253.12Z" fill="none" stroke="#7221bc" stroke-width="0.42"/>
<path d="M118.30 250.82L120.60 248.52L122.90 250.82L120.60 253.12Z" fill="none" stroke="#7221bc" stroke-width="0.42"/>
<path d="M124.88 250.82L127.18 248.52L129.48 250.82L127.18 253.12Z" fill="none" stroke="#7221bc" stroke-width="0.42"/>
<path d="M131.45 250.82L133.75 248.52L136.05 250.82L133.75 253.12Z" fill="none" stroke="#7221bc" stroke-width="0.42"/>
<path d="M138.02 250.82L140.32 248.52L142.62 250.82L140.32 253.12Z" fill="none" stroke="#7221bc" stroke-width="0.42"/>
<path d="M144.60 250.82L146.90 248.52L149.20 250.82L146.90 253.12Z" fill="none" stroke="#7221bc" stroke-width="0.42"/>
<path d="M151.18 250.82L153.48 248.52L155.78 250.82L153.48 253.12Z" fill="none" stroke="#7221bc" stroke-width="0.42"/>
<path d="M157.75 250.82L160.05 248.52L162.35 250.82L160.05 253.12Z" fill="none" stroke="#7221bc" stroke-width="0.42"/>
<path d="M164.32 250.82L166.62 248.52L168.93 250.82L166.62 253.12Z" fill="none" stroke="#7221bc" stroke-width="0.42"/>
<path d="M170.90 250.82L173.20 248.52L175.50 250.82L173.20 253.12Z" fill="none" stroke="#7221bc" stroke-width="0.42"/>
<path d="M177.47 250.82L179.77 248.52L182.07 250.82L179.77 253.12Z" fill="none" stroke="#7221bc" stroke-width="0.42"/>
<path d="M184.05 250.82L186.35 248.52L188.65 250.82L186.35 253.12Z" fill="none" stroke="#7221bc" stroke-width="0.42"/>
<path d="M190.62 250.82L192.93 248.52L195.23 250.82L192.93 253.12Z" fill="none" stroke="#7221bc" stroke-width="0.42"/>
<path d="M197.20 250.82L199.50 248.52L201.80 250.82L199.50 253.12Z" fill="none" stroke="#7221bc" stroke-width="0.42"/>
<path d="M203.78 250.82L206.08 248.52L208.38 250.82L206.08 253.12Z" fill="none" stroke="#7221bc" stroke-width="0.42"/>
<path d="M210.35 250.82L212.65 248.52L214.95 250.82L212.65 253.12Z" fill="none" stroke="#7221bc" stroke-width="0.42"/>
<path d="M216.92 250.82L219.22 248.52L221.53 250.82L219.22 253.12Z" fill="none" stroke="#7221bc" stroke-width="0.42"/>
<path d="M223.50 250.82L225.80 248.52L228.10 250.82L225.80 253.12Z" fill="none" stroke="#7221bc" stroke-width="0.42"/>
<path d="M230.07 251.19L232.38 248.89L234.68 251.19L232.38 253.49Z" fill="none" stroke="#7221bc" stroke-width="0.42"/>
<path d="M236.65 255.06L238.95 252.76L241.25 255.06L238.95 257.36Z" fill="none" stroke="#7221bc" stroke-width="0.42"/>
<path d="M243.22 404.23L245.53 401.93L247.83 404.23L245.53 406.53Z" fill="none" stroke="#7221bc" stroke-width="0.42"/>
<path d="M249.80 444.39L252.10 442.09L254.40 444.39L252.10 446.69Z" fill="none" stroke="#7221bc" stroke-width="0.42"/>
<path d="M262.95 453.74L265.25 451.44L267.55 453.74L265.25 456.04Z" fill="none" stroke="#7221bc" stroke-width="0.42"/>
<path d="M269.53 456.47L271.83 454.17L274.13 456.47L271.83 458.77Z" fill="none" stroke="#7221bc" stroke-width="0.42"/>
<path d="M276.10 451.26L278.40 448.96L280.70 451.26L278.40 453.56Z" fill="none" stroke="#7221bc" stroke-width="0.42"/>
<path d="M282.68 455.32L284.98 453.02L287.28 455.32L284.98 457.62Z" fill="none" stroke="#7221bc" stroke-width="0.42"/>
<path d="M289.25 453.68L291.55 451.38L293.85 453.68L291.55 455.98Z" fill="none" stroke="#7221bc" stroke-width="0.42"/>
<path d="M295.82 455.23L298.12 452.93L300.43 455.23L298.12 457.53Z" fill="none" stroke="#7221bc" stroke-width="0.42"/>
<path d="M302.40 454.92L304.70 452.62L307.00 454.92L304.70 457.22Z" fill="none" stroke="#7221bc" stroke-width="0.42"/>
<path d="M308.97 455.54L311.27 453.24L313.57 455.54L311.27 457.84Z" fill="none" stroke="#7221bc" stroke-width="0.42"/>
<path d="M315.55 455.23L317.85 452.93L320.15 455.23L317.85 457.53Z" fill="none" stroke="#7221bc" stroke-width="0.42"/>
<path d="M322.12 454.61L324.43 452.31L326.73 454.61L324.43 456.91Z" fill="none" stroke="#7221bc" stroke-width="0.42"/>
<path d="M328.70 455.85L331.00 453.55L333.30 455.85L331.00 458.15Z" fill="none" stroke="#7221bc" stroke-width="0.42"/>
<text transform="translate(68.00,469.0) scale(0.955,1)" font-size="9.85" text-anchor="middle" fill="#1a1a1a">0</text>
<text transform="translate(100.88,469.0) scale(0.955,1)" font-size="9.85" text-anchor="middle" fill="#1a1a1a">0.5</text>
<text transform="translate(133.75,469.0) scale(0.955,1)" font-size="9.85" text-anchor="middle" fill="#1a1a1a">1</text>
<text transform="translate(166.62,469.0) scale(0.955,1)" font-size="9.85" text-anchor="middle" fill="#1a1a1a">1.5</text>
<text transform="translate(199.50,469.0) scale(0.955,1)" font-size="9.85" text-anchor="middle" fill="#1a1a1a">2</text>
<text transform="translate(232.38,469.0) scale(0.955,1)" font-size="9.85" text-anchor="middle" fill="#1a1a1a">2.5</text>
<text transform="translate(265.25,469.0) scale(0.955,1)" font-size="9.85" text-anchor="middle" fill="#1a1a1a">3</text>
<text transform="translate(298.12,469.0) scale(0.955,1)" font-size="9.85" text-anchor="middle" fill="#1a1a1a">3.5</text>
<text transform="translate(331.00,469.0) scale(0.955,1)" font-size="9.85" text-anchor="middle" fill="#1a1a1a">4</text>
<text transform="translate(62.2,460.95) scale(0.955,1)" font-size="9.85" text-anchor="end" fill="#1a1a1a">0</text>
<text transform="translate(62.2,429.96) scale(0.955,1)" font-size="9.85" text-anchor="end" fill="#1a1a1a">0.1</text>
<text transform="translate(62.2,398.98) scale(0.955,1)" font-size="9.85" text-anchor="end" fill="#1a1a1a">0.2</text>
<text transform="translate(62.2,367.99) scale(0.955,1)" font-size="9.85" text-anchor="end" fill="#1a1a1a">0.3</text>
<text transform="translate(62.2,337.01) scale(0.955,1)" font-size="9.85" text-anchor="end" fill="#1a1a1a">0.4</text>
<text transform="translate(62.2,306.02) scale(0.955,1)" font-size="9.85" text-anchor="end" fill="#1a1a1a">0.5</text>
<text transform="translate(62.2,275.04) scale(0.955,1)" font-size="9.85" text-anchor="end" fill="#1a1a1a">0.6</text>
<text transform="translate(62.2,244.05) scale(0.955,1)" font-size="9.85" text-anchor="end" fill="#1a1a1a">0.7</text>
<text x="181.5" y="481.5" font-size="13.95" fill="#1a1a1a">T / J<tspan font-size="8.35" dx="0.5" dy="3.8">1</tspan></text>
<text transform="translate(42.2,412.7) rotate(-90)" font-size="13.95" fill="#1a1a1a">Binder 4<tspan font-size="8.35" dx="0.7" dy="-7.3">th</tspan><tspan dx="-1.4" dy="7.3"> Cumulant</tspan></text>
<text x="282.0" y="274.2" font-size="14.3" font-weight="bold" fill="#111">(a)</text>
<rect x="81.3" y="293.7" width="63.3" height="144.5" fill="#fff" stroke="#1c1c1c" stroke-width="1.1"/>
<path d="M86.8 302.20H97.8" stroke="#000000" stroke-width="0.42" fill="none"/>
<circle cx="86.80" cy="302.20" r="2.10" fill="#000000"/>
<circle cx="97.80" cy="302.20" r="2.10" fill="#000000"/>
<text x="103.35" y="305.50" font-size="9.25" font-weight="bold" xml:space="preserve" fill="#111">L=    8</text>
<path d="M86.8 313.79H97.8" stroke="#ff0000" stroke-width="0.42" fill="none"/>
<rect x="85.00" y="311.99" width="3.60" height="3.60" fill="#ff0000"/>
<rect x="96.00" y="311.99" width="3.60" height="3.60" fill="#ff0000"/>
<text x="103.35" y="317.09" font-size="9.25" font-weight="bold" xml:space="preserve" fill="#111">L=   16</text>
<path d="M86.8 325.38H97.8" stroke="#00ff00" stroke-width="0.42" fill="none"/>
<path d="M84.50 325.38L86.80 323.08L89.10 325.38L86.80 327.68Z" fill="#00ff00"/>
<path d="M95.50 325.38L97.80 323.08L100.10 325.38L97.80 327.68Z" fill="#00ff00"/>
<text x="103.35" y="328.68" font-size="9.25" font-weight="bold" xml:space="preserve" fill="#111">L=   32</text>
<path d="M86.8 336.97H97.8" stroke="#0000ff" stroke-width="0.42" fill="none"/>
<path d="M84.35 339.42L86.80 334.52L89.25 339.42Z" fill="#0000ff"/>
<path d="M95.35 339.42L97.80 334.52L100.25 339.42Z" fill="#0000ff"/>
<text x="103.35" y="340.27" font-size="9.25" font-weight="bold" xml:space="preserve" fill="#111">L=   64</text>
<path d="M86.8 348.56H97.8" stroke="#ffff00" stroke-width="0.42" fill="none"/>
<path d="M89.25 346.11L84.35 348.56L89.25 351.01Z" fill="#ffff00"/>
<path d="M100.25 346.11L95.35 348.56L100.25 351.01Z" fill="#ffff00"/>
<text x="103.35" y="351.86" font-size="9.25" font-weight="bold" xml:space="preserve" fill="#111">L=  128</text>
<path d="M86.8 360.15H97.8" stroke="#bc8f8f" stroke-width="0.42" fill="none"/>
<path d="M84.35 357.70L89.25 360.15L84.35 362.60Z" fill="#bc8f8f"/>
<path d="M95.35 357.70L100.25 360.15L95.35 362.60Z" fill="#bc8f8f"/>
<text x="103.35" y="363.45" font-size="9.25" font-weight="bold" xml:space="preserve" fill="#111">L=  256</text>
<path d="M86.8 371.74H97.8" stroke="#dcdcdc" stroke-width="0.42" fill="none"/>
<path d="M84.50 371.74H89.10M86.80 369.44V374.04" fill="none" stroke="#dcdcdc" stroke-width="0.42"/>
<path d="M95.50 371.74H100.10M97.80 369.44V374.04" fill="none" stroke="#dcdcdc" stroke-width="0.42"/>
<text x="103.35" y="375.04" font-size="9.25" font-weight="bold" xml:space="preserve" fill="#111">L=  512</text>
<path d="M86.8 383.33H97.8" stroke="#9400d3" stroke-width="0.42" fill="none"/>
<path d="M85.00 381.53L88.60 385.13M85.00 385.13L88.60 381.53" fill="none" stroke="#9400d3" stroke-width="0.42"/>
<path d="M96.00 381.53L99.60 385.13M96.00 385.13L99.60 381.53" fill="none" stroke="#9400d3" stroke-width="0.42"/>
<text x="103.35" y="386.63" font-size="9.25" font-weight="bold" xml:space="preserve" fill="#111">L= 1024</text>
<path d="M86.8 394.92H97.8" stroke="#00ffff" stroke-width="0.42" fill="none"/>
<path d="M84.90 394.92H88.70M86.80 393.02V396.82M85.19 393.30L88.41 396.53M85.19 396.53L88.41 393.30" fill="none" stroke="#00ffff" stroke-width="0.42"/>
<path d="M95.90 394.92H99.70M97.80 393.02V396.82M96.19 393.30L99.41 396.53M96.19 396.53L99.41 393.30" fill="none" stroke="#00ffff" stroke-width="0.42"/>
<text x="103.35" y="398.22" font-size="9.25" font-weight="bold" xml:space="preserve" fill="#111">L= 2048</text>
<path d="M86.8 406.51H97.8" stroke="#ff00ff" stroke-width="0.42" fill="none"/>
<circle cx="86.80" cy="406.51" r="2.20" fill="none" stroke="#ff00ff" stroke-width="0.42"/>
<circle cx="97.80" cy="406.51" r="2.20" fill="none" stroke="#ff00ff" stroke-width="0.42"/>
<text x="103.35" y="409.81" font-size="9.25" font-weight="bold" xml:space="preserve" fill="#111">L= 4096</text>
<path d="M86.8 418.10H97.8" stroke="#ffa500" stroke-width="0.42" fill="none"/>
<rect x="84.85" y="416.15" width="3.90" height="3.90" fill="none" stroke="#ffa500" stroke-width="0.42"/>
<rect x="95.85" y="416.15" width="3.90" height="3.90" fill="none" stroke="#ffa500" stroke-width="0.42"/>
<text x="103.35" y="421.40" font-size="9.25" font-weight="bold" xml:space="preserve" fill="#111">L= 8192</text>
<path d="M86.8 429.69H97.8" stroke="#7221bc" stroke-width="0.42" fill="none"/>
<path d="M84.50 429.69L86.80 427.39L89.10 429.69L86.80 431.99Z" fill="none" stroke="#7221bc" stroke-width="0.42"/>
<path d="M95.50 429.69L97.80 427.39L100.10 429.69L97.80 431.99Z" fill="none" stroke="#7221bc" stroke-width="0.42"/>
<text x="103.35" y="432.99" font-size="9.25" font-weight="bold" xml:space="preserve" fill="#111">L=16384</text>
</svg>
</body></html>
